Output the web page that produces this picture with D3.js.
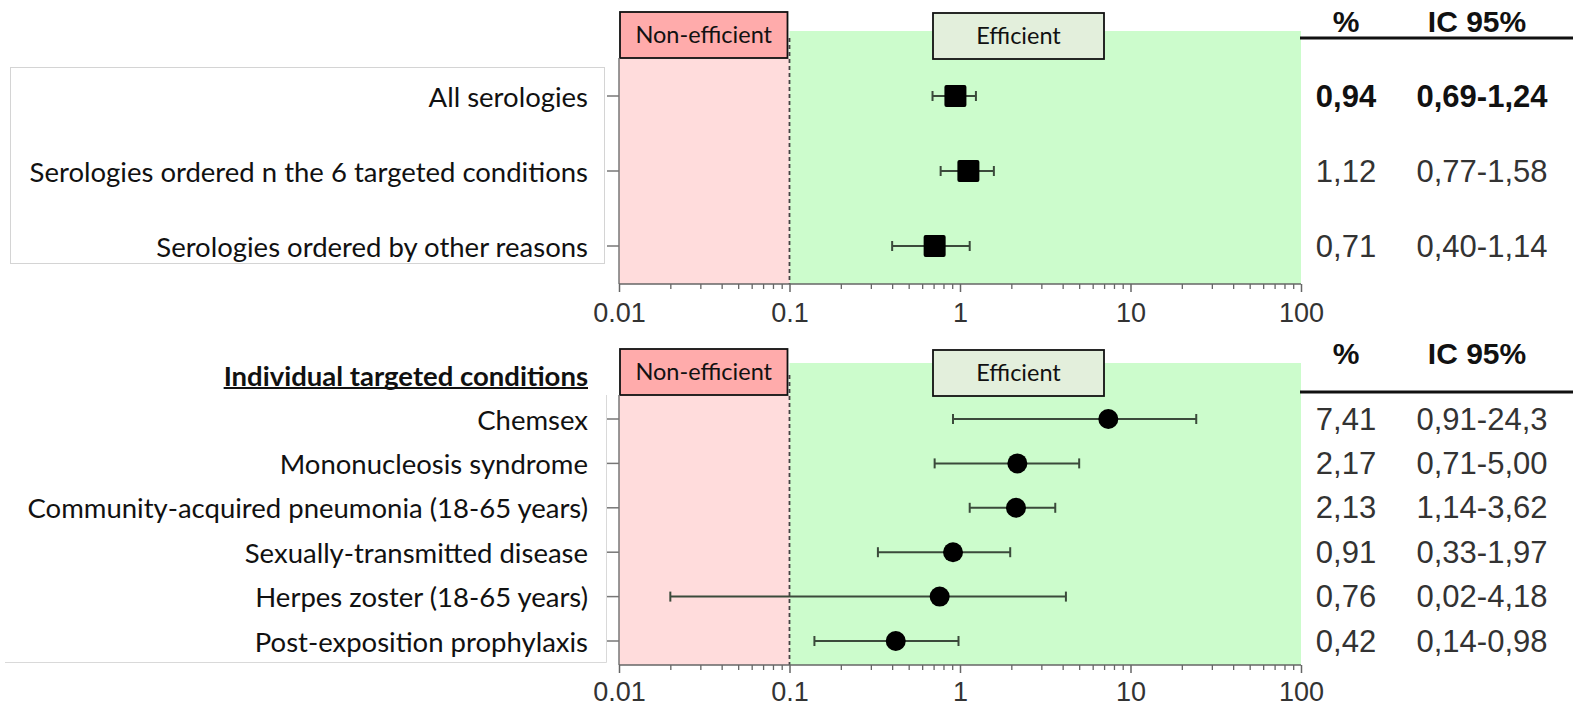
<!DOCTYPE html>
<html>
<head>
<meta charset="utf-8">
<script src="https://cdn.jsdelivr.net/npm/d3@7"></script>
<style>
  html, body { margin: 0; padding: 0; background: #fff; }
  svg { display: block; }
</style>
</head>
<body>
<svg id="chart" width="1573" height="709"></svg>
<script>
// ---------------- DATA ----------------
const tickValues = [0.01, 0.1, 1, 10, 100];
const tickLabels = ["0.01", "0.1", "1", "10", "100"];
const threshold = 0.1;

const topCategories = ["All serologies", "Serologies ordered n the 6 targeted conditions", "Serologies ordered by other reasons"];
const topEstimate = [0.94, 1.12, 0.71];
const topLower = [0.69, 0.77, 0.40];
const topUpper = [1.24, 1.58, 1.14];
const topPctText = ["0,94", "1,12", "0,71"];
const topCIText = ["0,69-1,24", "0,77-1,58", "0,40-1,14"];
const topBold = [true, false, false];

const bottomTitle = "Individual targeted conditions";
const bottomCategories = ["Chemsex", "Mononucleosis syndrome", "Community-acquired pneumonia (18-65 years)", "Sexually-transmitted disease", "Herpes zoster (18-65 years)", "Post-exposition prophylaxis"];
const bottomEstimate = [7.41, 2.17, 2.13, 0.91, 0.76, 0.42];
const bottomLower = [0.91, 0.71, 1.14, 0.33, 0.02, 0.14];
const bottomUpper = [24.3, 5.00, 3.62, 1.97, 4.18, 0.98];
const bottomPctText = ["7,41", "2,17", "2,13", "0,91", "0,76", "0,42"];
const bottomCIText = ["0,91-24,3", "0,71-5,00", "1,14-3,62", "0,33-1,97", "0,02-4,18", "0,14-0,98"];

const zoneLabels = ["Non-efficient", "Efficient"];
const tableHeaders = ["%", "IC 95%"];

// ---------------- LAYOUT ----------------
const svg = d3.select("#chart");
const X0 = 619, X1 = 1301;
const x = d3.scaleLog().domain([tickValues[0], tickValues[tickValues.length - 1]]).range([X0, X1]);

const minorTicks = [];
for (let e = -2; e < 2; e++) for (let m = 2; m <= 9; m++) minorTicks.push(m * Math.pow(10, e));

const labelFont = "Lato, 'Open Sans', sans-serif";
const numFont = "'Liberation Sans', Arial, sans-serif";

function panel(cfg) {
  const g = svg.append("g");
  const y = d3.scalePoint().domain(cfg.categories).range(cfg.rowRange);

  // left label box
  if (cfg.fullBox) {
    g.append("rect").attr("x", 10.5).attr("y", cfg.boxTop + 0.5).attr("width", 594).attr("height", cfg.boxBottom - cfg.boxTop)
      .attr("fill", "#fff").attr("stroke", "#d4d4d4").attr("stroke-width", 1);
  } else {
    g.append("path").attr("d", `M5,${cfg.boxBottom + 0.5}H606.5V${cfg.boxTop}`)
      .attr("fill", "none").attr("stroke", "#d9d9d9").attr("stroke-width", 1);
  }

  // background zones
  g.append("rect").attr("x", x(threshold)).attr("y", cfg.greenTop)
    .attr("width", x(tickValues[tickValues.length - 1]) - x(threshold)).attr("height", cfg.axisY - cfg.greenTop)
    .attr("fill", "#ccfccc");
  g.append("rect").attr("x", X0).attr("y", cfg.zoneBoxBottom)
    .attr("width", x(threshold) - X0).attr("height", cfg.axisY - cfg.zoneBoxBottom)
    .attr("fill", "#ffdcdc");

  // threshold dashed line
  g.append("line").attr("x1", x(threshold)).attr("x2", x(threshold))
    .attr("y1", cfg.zoneBoxBottom - 20).attr("y2", cfg.axisY)
    .attr("stroke", "#444").attr("stroke-width", 1.8).attr("stroke-dasharray", "4,3");

  // zone label boxes
  const boxes = [
    {label: zoneLabels[0], x0: X0 + 1, x1: x(threshold) - 2, top: cfg.zoneBoxTop, bottom: cfg.zoneBoxBottom, fill: "#ffabab"},
    {label: zoneLabels[1], x0: 933, x1: 1104, top: cfg.zoneBoxTop + 1, bottom: cfg.zoneBoxBottom + 1, fill: "#e3efdc"}
  ];
  boxes.forEach(b => {
    g.append("rect").attr("x", b.x0).attr("y", b.top).attr("width", b.x1 - b.x0).attr("height", b.bottom - b.top)
      .attr("fill", b.fill).attr("stroke", "#111").attr("stroke-width", 1.8);
    g.append("text").attr("x", (b.x0 + b.x1) / 2).attr("y", (b.top + b.bottom) / 2)
      .attr("dy", "0.35em").attr("text-anchor", "middle")
      .attr("font-family", labelFont).attr("font-size", 23.5).attr("fill", "#111").text(b.label);
  });

  // left y axis line
  g.append("line").attr("x1", X0).attr("x2", X0).attr("y1", cfg.zoneBoxBottom).attr("y2", cfg.axisY)
    .attr("stroke", "#777").attr("stroke-width", 1.5);
  // row ticks
  g.selectAll(".rtick").data(cfg.categories).enter().append("line")
    .attr("x1", X0 - 12).attr("x2", X0).attr("y1", d => y(d)).attr("y2", d => y(d))
    .attr("stroke", "#777").attr("stroke-width", 1.5);

  // x axis: minor then major
  const minorAxis = d3.axisBottom(x).tickValues(minorTicks).tickSize(5).tickFormat("");
  const gm = g.append("g").attr("transform", `translate(0,${cfg.axisY})`).call(minorAxis);
  gm.select(".domain").remove();
  gm.selectAll("line").attr("stroke", "#666").attr("stroke-width", 1.3);

  const majorAxis = d3.axisBottom(x).tickValues(tickValues).tickSize(8).tickPadding(cfg.tickPad)
    .tickFormat((d, i) => tickLabels[i]);
  const ga = g.append("g").attr("transform", `translate(0,${cfg.axisY})`).call(majorAxis);
  ga.select(".domain").attr("stroke", "#666").attr("stroke-width", 1.5).attr("d", `M${X0},0H${X1}`);
  ga.selectAll("line").attr("stroke", "#666").attr("stroke-width", 1.5);
  ga.selectAll("text").attr("font-family", numFont).attr("font-size", 27).attr("fill", "#333");

  // category labels
  g.selectAll(".clab").data(cfg.categories).enter().append("text")
    .attr("x", 588).attr("y", d => y(d)).attr("dominant-baseline", "central")
    .attr("text-anchor", "end").attr("font-family", labelFont).attr("font-size", 27.5).attr("fill", "#111")
    .text(d => d);

  if (cfg.title) {
    const t = g.append("text").attr("x", 588).attr("y", cfg.titleY).attr("dominant-baseline", "central")
      .attr("text-anchor", "end").attr("font-family", labelFont).attr("font-weight", "bold")
      .attr("font-size", 27.5).attr("fill", "#111").text(cfg.title);
    const w = t.node().getComputedTextLength();
    g.append("line").attr("x1", 588 - w).attr("x2", 588).attr("y1", cfg.titleY + 13).attr("y2", cfg.titleY + 13)
      .attr("stroke", "#111").attr("stroke-width", 2);
  }

  // error bars
  const rows = cfg.categories.map((c, i) => ({c, est: cfg.est[i], lo: cfg.lo[i], hi: cfg.hi[i]}));
  const eb = g.selectAll(".eb").data(rows).enter().append("g");
  eb.append("line").attr("x1", d => x(d.lo)).attr("x2", d => x(d.hi)).attr("y1", d => y(d.c)).attr("y2", d => y(d.c))
    .attr("stroke", "#3b4a3b").attr("stroke-width", 2);
  eb.append("line").attr("x1", d => x(d.lo)).attr("x2", d => x(d.lo)).attr("y1", d => y(d.c) - 5).attr("y2", d => y(d.c) + 5)
    .attr("stroke", "#3b4a3b").attr("stroke-width", 2);
  eb.append("line").attr("x1", d => x(d.hi)).attr("x2", d => x(d.hi)).attr("y1", d => y(d.c) - 5).attr("y2", d => y(d.c) + 5)
    .attr("stroke", "#3b4a3b").attr("stroke-width", 2);
  if (cfg.shape === "square") {
    eb.append("rect").attr("x", d => x(d.est) - 11).attr("y", d => y(d.c) - 11)
      .attr("width", 22).attr("height", 22).attr("rx", 2).attr("fill", "#000");
  } else {
    eb.append("circle").attr("cx", d => x(d.est)).attr("cy", d => y(d.c)).attr("r", 10).attr("fill", "#000");
  }

  // table
  const colPct = 1346, colCI = 1482;
  g.append("text").attr("x", colPct).attr("y", cfg.headerY).attr("text-anchor", "middle")
    .attr("font-family", numFont).attr("font-weight", "bold").attr("font-size", 30).attr("fill", "#111").text(tableHeaders[0]);
  g.append("text").attr("x", 1477).attr("y", cfg.headerY).attr("text-anchor", "middle")
    .attr("font-family", numFont).attr("font-weight", "bold").attr("font-size", 30).attr("fill", "#111").text(tableHeaders[1]);
  g.append("line").attr("x1", 1300).attr("x2", 1573).attr("y1", cfg.headerLineY).attr("y2", cfg.headerLineY)
    .attr("stroke", "#111").attr("stroke-width", 3);

  g.selectAll(".tp").data(cfg.categories).enter().append("text")
    .attr("x", colPct).attr("y", d => y(d)).attr("dominant-baseline", "central").attr("text-anchor", "middle")
    .attr("font-family", numFont).attr("font-size", 31)
    .attr("font-weight", (d, i) => cfg.bold && cfg.bold[i] ? "bold" : "normal")
    .attr("fill", (d, i) => cfg.bold && cfg.bold[i] ? "#111" : "#333")
    .text((d, i) => cfg.pct[i]);
  g.selectAll(".tc").data(cfg.categories).enter().append("text")
    .attr("x", colCI).attr("y", d => y(d)).attr("dominant-baseline", "central").attr("text-anchor", "middle")
    .attr("font-family", numFont).attr("font-size", 31)
    .attr("font-weight", (d, i) => cfg.bold && cfg.bold[i] ? "bold" : "normal")
    .attr("fill", (d, i) => cfg.bold && cfg.bold[i] ? "#111" : "#333")
    .text((d, i) => cfg.ci[i]);
}

panel({
  categories: topCategories, est: topEstimate, lo: topLower, hi: topUpper,
  pct: topPctText, ci: topCIText, bold: topBold,
  rowRange: [96, 246], axisY: 284, greenTop: 31, zoneBoxTop: 12, zoneBoxBottom: 58,
  boxTop: 67, boxBottom: 263, fullBox: true, shape: "square",
  headerY: 32, headerLineY: 38, tickPad: 11
});

panel({
  categories: bottomCategories, est: bottomEstimate, lo: bottomLower, hi: bottomUpper,
  pct: bottomPctText, ci: bottomCIText, bold: null,
  rowRange: [419, 641], axisY: 665, greenTop: 363, zoneBoxTop: 349, zoneBoxBottom: 395,
  boxTop: 395, boxBottom: 662, fullBox: false, shape: "circle",
  title: bottomTitle, titleY: 375,
  headerY: 364, headerLineY: 392, tickPad: 9
});
</script>
</body>
</html>
